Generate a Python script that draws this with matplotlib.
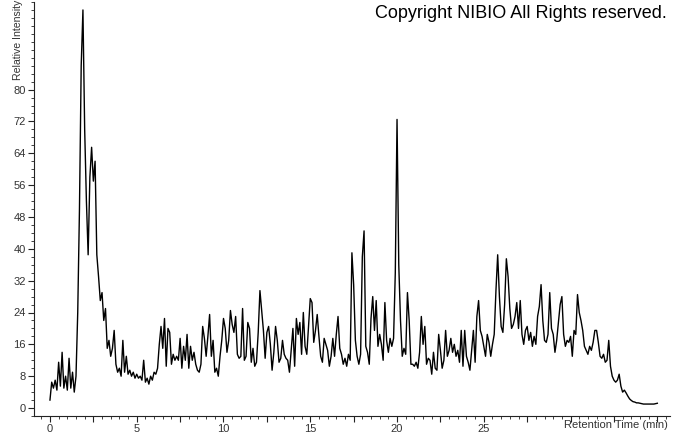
import numpy as np
import matplotlib
matplotlib.use("Agg")
import matplotlib.pyplot as plt
from matplotlib.ticker import MultipleLocator

# chromatogram, one value every 0.1 min from 0.0 to 35.0 min
time_step = 0.1
intensity = [
    2.0, 6.5, 5.0, 7.0, 4.5, 11.5, 5.5, 14.0, 5.0, 8.0,          # 0
    4.5, 12.5, 5.0, 9.0, 4.0, 8.0, 24.0, 50.0, 86.0, 100.0,      # 1
    70.0, 52.0, 38.5, 58.0, 65.5, 57.0, 62.0, 38.5, 33.0, 27.0,  # 2
    29.0, 22.0, 25.0, 15.0, 17.0, 13.0, 15.0, 19.5, 11.0, 9.0,   # 3
    10.0, 8.0, 17.0, 9.0, 13.0, 8.5, 9.5, 8.0, 9.0, 7.5,         # 4
    8.5, 7.5, 8.0, 7.0, 12.0, 6.5, 7.5, 6.0, 8.0, 7.0,           # 5
    9.0, 8.5, 10.0, 16.0, 20.5, 15.0, 22.5, 10.5, 20.0, 19.0,    # 6
    11.0, 13.5, 12.0, 13.0, 12.0, 17.5, 10.0, 15.5, 12.0, 18.5,  # 7
    10.0, 15.5, 12.0, 14.0, 11.0, 9.5, 9.0, 11.0, 20.5, 17.5,    # 8
    13.0, 18.0, 23.5, 13.0, 17.0, 9.0, 10.0, 8.0, 13.0, 17.0,    # 9
    22.5, 20.0, 14.0, 17.0, 24.5, 21.0, 19.0, 23.0, 13.5, 12.5,  # 10
    13.0, 25.0, 12.0, 13.0, 21.5, 20.0, 11.5, 15.0, 10.5, 11.5,  # 11
    19.0, 29.5, 24.5, 19.5, 12.5, 19.0, 20.5, 16.0, 9.5, 14.0,   # 12
    20.5, 17.0, 11.5, 12.5, 17.0, 13.5, 12.5, 12.0, 9.0, 14.5,   # 13
    20.0, 10.5, 22.5, 18.5, 21.5, 13.5, 24.0, 15.5, 13.5, 20.5,  # 14
    27.5, 26.5, 16.5, 19.5, 23.5, 18.0, 13.0, 11.5, 17.5, 16.0,  # 15
    14.5, 10.5, 13.0, 17.5, 13.0, 18.5, 23.0, 15.0, 13.5, 11.0,  # 16
    12.5, 10.5, 13.5, 12.0, 39.0, 31.0, 17.0, 13.0, 11.0, 13.5,  # 17
    38.0, 44.5, 15.5, 14.0, 11.0, 22.5, 28.0, 19.5, 27.0, 15.5,  # 18
    18.5, 16.0, 12.0, 26.5, 17.0, 14.0, 17.5, 15.5, 17.5, 34.0,  # 19
    72.5, 36.0, 22.0, 13.0, 15.0, 13.5, 29.0, 22.0, 11.0, 11.0,  # 20
    10.5, 11.5, 10.0, 14.0, 23.0, 16.0, 20.5, 11.0, 12.5, 12.0,  # 21
    8.5, 14.0, 10.0, 9.5, 18.5, 14.5, 10.0, 12.0, 19.5, 13.0,    # 22
    14.5, 17.5, 14.0, 16.0, 13.0, 14.5, 11.5, 19.5, 10.5, 19.5,  # 23
    13.0, 11.5, 9.5, 14.5, 19.5, 11.5, 23.0, 27.0, 19.5, 18.0,   # 24
    15.5, 13.0, 18.5, 16.5, 13.0, 16.0, 18.5, 29.5, 38.5, 28.0,  # 25
    20.5, 19.0, 26.0, 37.5, 33.0, 25.0, 20.0, 21.0, 23.0, 26.5,  # 26
    20.0, 27.0, 18.5, 16.0, 19.5, 20.5, 17.0, 19.0, 15.5, 18.0,  # 27
    16.0, 23.0, 25.5, 31.0, 22.0, 17.0, 16.5, 18.5, 29.0, 20.0,  # 28
    18.5, 14.0, 17.0, 21.5, 26.0, 28.0, 18.5, 15.5, 17.0, 16.5,  # 29
    18.0, 13.0, 19.5, 18.5, 28.5, 24.0, 22.0, 19.5, 15.5, 14.5,  # 30
    13.5, 15.5, 14.5, 16.5, 19.5, 19.5, 16.5, 13.0, 12.5, 13.5,  # 31
    11.5, 12.0, 17.0, 10.5, 8.0, 7.0, 6.5, 7.0, 8.5, 5.5,        # 32
    4.0, 4.5, 3.8, 3.0, 2.3, 1.9, 1.6, 1.5, 1.3, 1.3,            # 33
    1.2, 1.1, 1.0, 1.0, 1.0, 1.0, 1.0, 1.0, 1.0, 1.1,            # 34
    1.2,                                                         # 35
]
time = np.arange(len(intensity)) * time_step

x_labels = ["0", "5", "10", "15", "20", "25"]
x_label_pos = [0, 5, 10, 15, 20, 25]
y_label_pos = [0, 8, 16, 24, 32, 40, 48, 56, 64, 72, 80]

plt.rcParams['font.family'] = ['Liberation Sans', 'DejaVu Sans']

fig = plt.figure(figsize=(6.74, 4.34), dpi=100)
ax = fig.add_axes([34 / 674, 18 / 434, 636 / 674, 414 / 434])

ax.plot(time, intensity, color='black', lw=1.0)

ax.set_xlim(-0.92, 35.73)
ax.set_ylim(-2.0, 102.0)

for s in ['top', 'right']:
    ax.spines[s].set_visible(False)
for s in ['left', 'bottom']:
    ax.spines[s].set_color('#222222')
    ax.spines[s].set_linewidth(0.8)

ax.yaxis.set_minor_locator(MultipleLocator(2))
ax.xaxis.set_minor_locator(MultipleLocator(0.5))
ax.set_yticks(y_label_pos)
ax.set_yticklabels([str(v) for v in y_label_pos])

# major ticks every 2.5 min, only multiples of 5 carry a label
ax.set_xticks(x_label_pos + [2.5, 7.5, 12.5, 17.5, 22.5, 27.5, 30, 32.5, 35])
ax.set_xticklabels(x_labels + [""] * 9)

ax.tick_params(which='major', length=4, width=0.8, color='#222222',
               labelsize=8, labelcolor='#333333', pad=2)
ax.tick_params(which='minor', length=2, width=0.6, color='#222222')

fig.text(18 / 674, 1 - 80 / 434, 'Relative Intensity', rotation=90,
         ha='center', va='bottom', fontsize=7.6, color='#333333')
fig.text(668 / 674, 1 - 425 / 434, 'Retention Time (min)',
         ha='right', va='center', fontsize=8, color='#333333')
fig.text(667 / 674, 1 - 14 / 434, 'Copyright NIBIO All Rights reserved.',
         ha='right', va='center', fontsize=13, color='black')

fig.savefig('out.png', dpi=100)
